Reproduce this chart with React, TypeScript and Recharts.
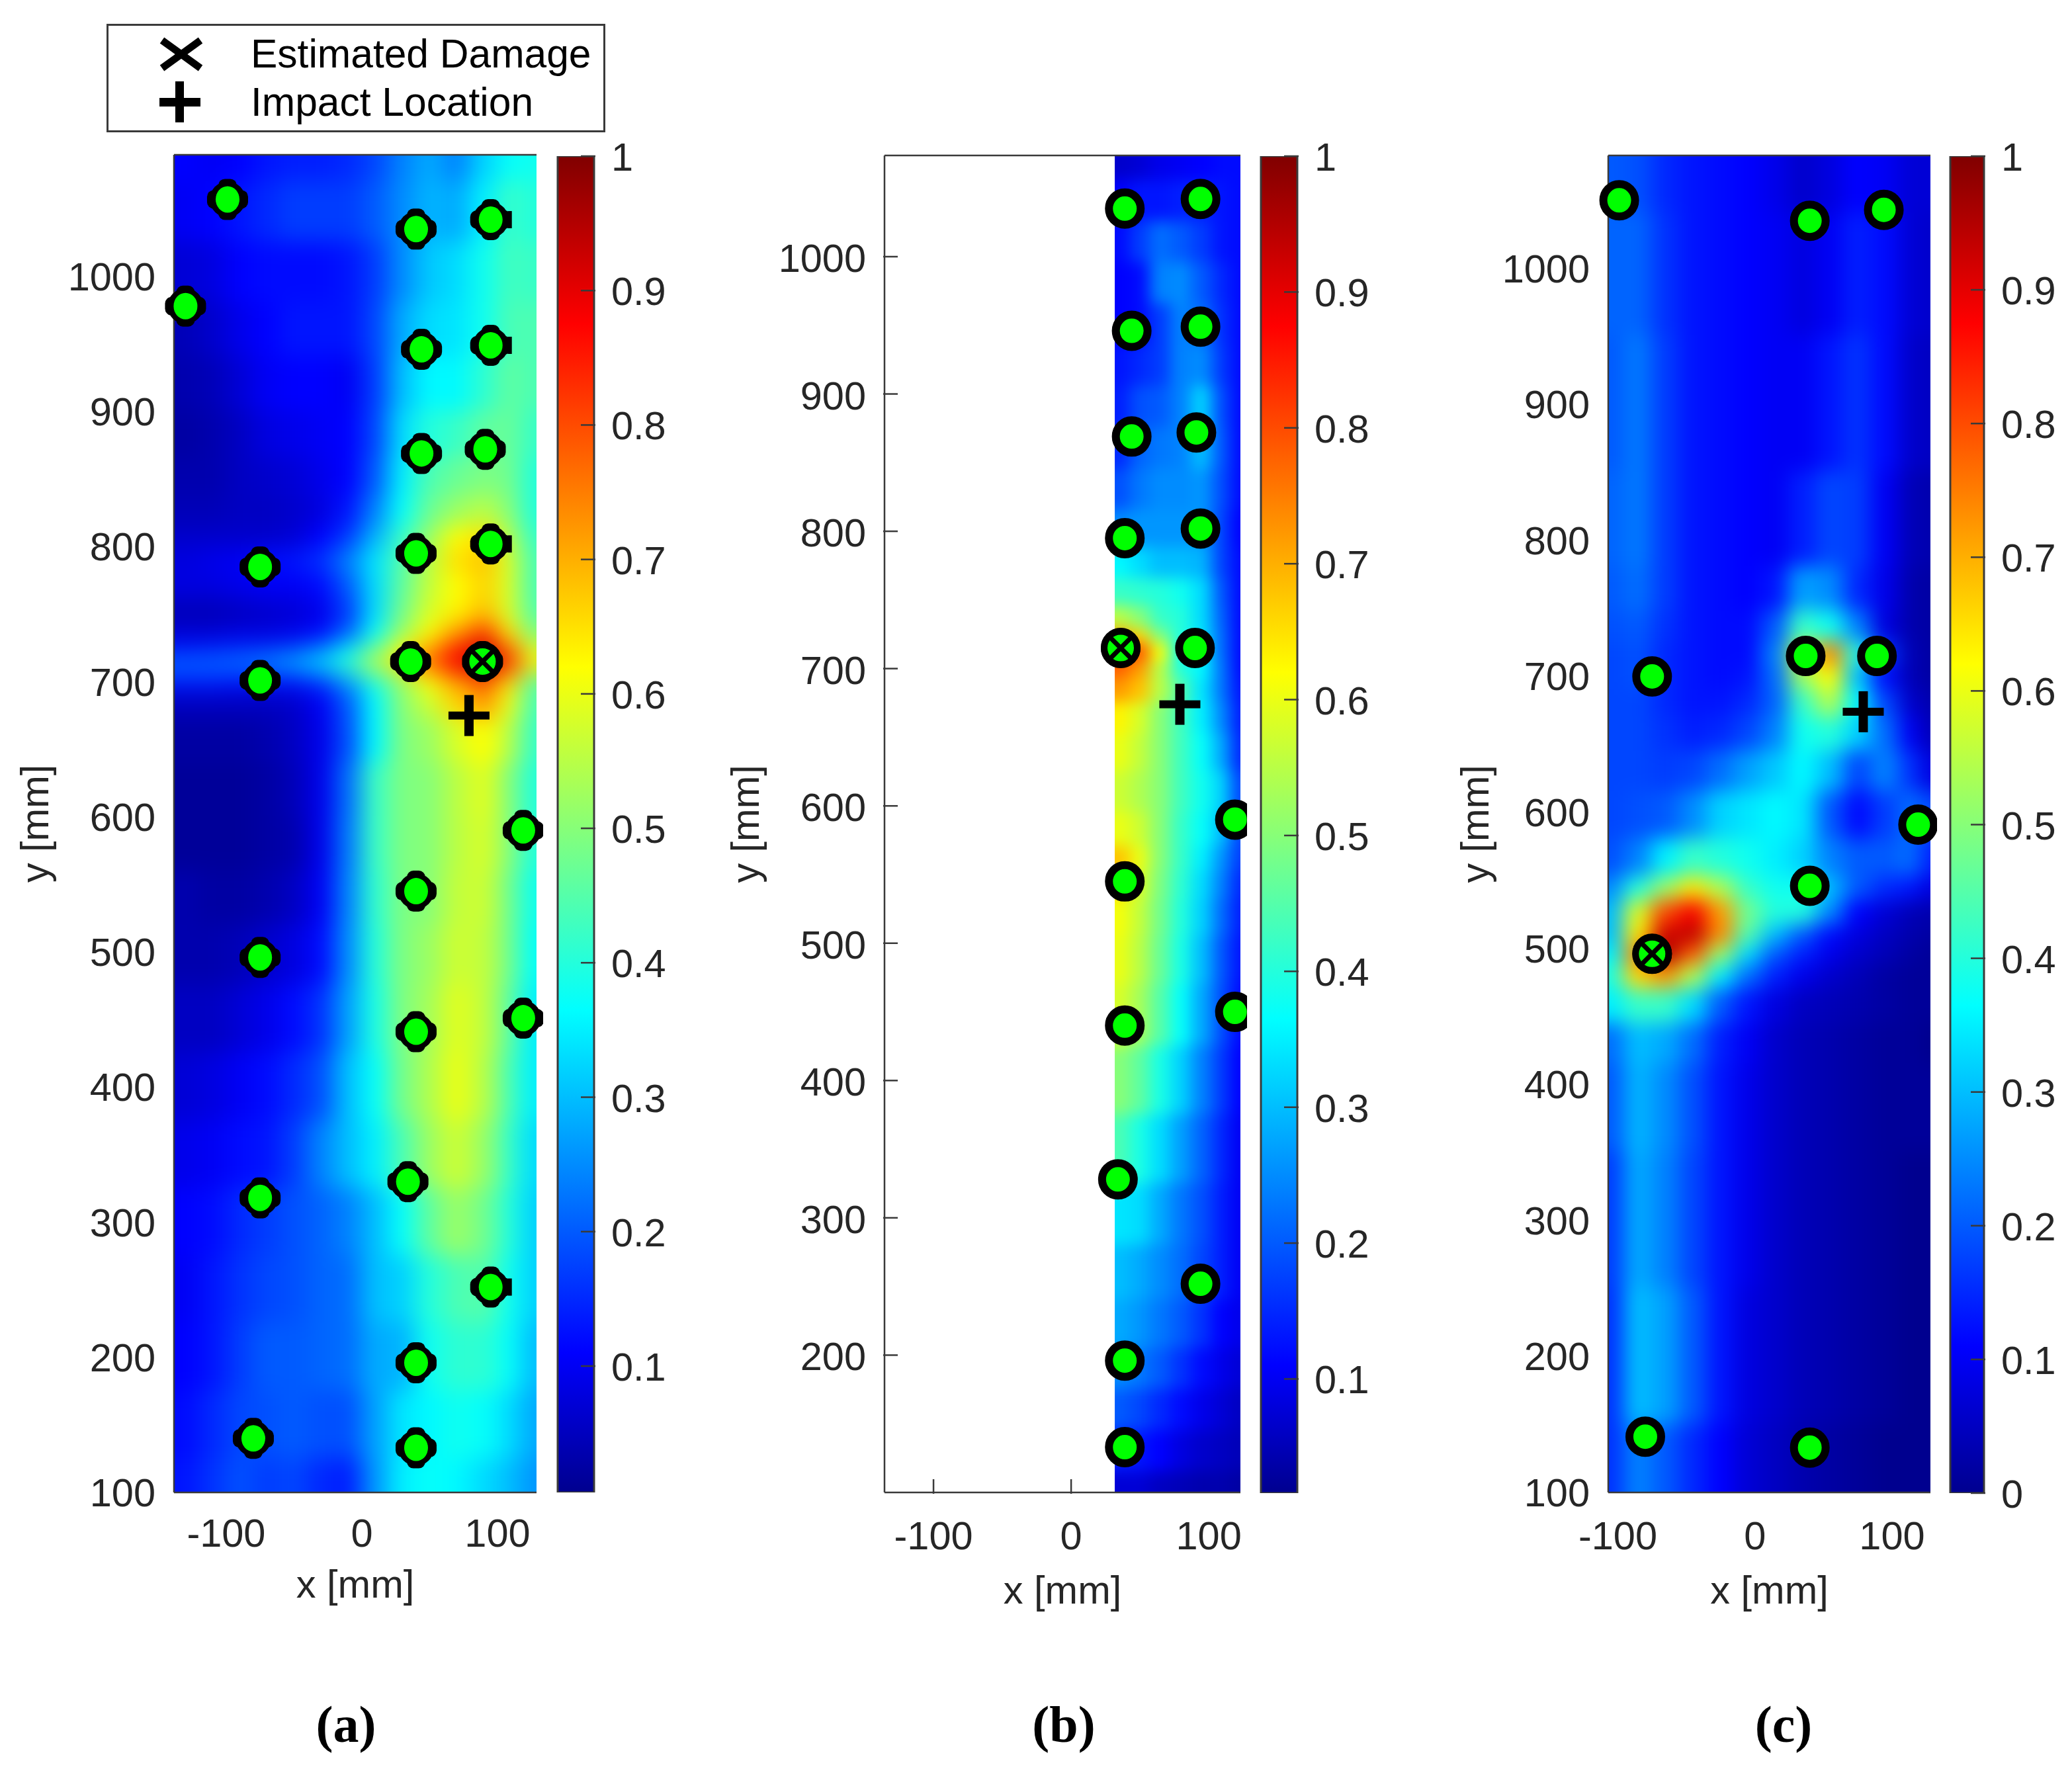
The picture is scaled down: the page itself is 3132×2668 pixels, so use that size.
import { Bar, BarChart, Legend, ReferenceArea, Scatter, ScatterChart, XAxis, YAxis } from 'recharts';

const FONT = '"Liberation Sans", Arial, sans-serif';
const INK = '#262626';
const FRAME = '#3a3a3a';
const FULL_H = 2668;

const JET_STOPS: [number, number[]][] = [
  [0, [0, 0, 143]],
  [0.11, [0, 0, 255]],
  [0.365, [0, 255, 255]],
  [0.62, [255, 255, 0]],
  [0.875, [255, 0, 0]],
  [1, [128, 0, 0]],
];

const LEGEND_ITEMS = ['Estimated Damage', 'Impact Location'];
const CAPTIONS = ['(a)', '(b)', '(c)'];
const BAR_TICKS = [0.1, 0.2, 0.3, 0.4, 0.5, 0.6, 0.7, 0.8, 0.9, 1];
const BAR_TICKS_ZERO = [0, 0.1, 0.2, 0.3, 0.4, 0.5, 0.6, 0.7, 0.8, 0.9, 1];
const X_TICKS = [-100, 0, 100];
const Y_TICKS = [100, 200, 300, 400, 500, 600, 700, 800, 900, 1000];
const Y_TICKS_B = [200, 300, 400, 500, 600, 700, 800, 900, 1000];

// sensor positions in mm
const SENSORS_A = [
  { x: -99, y: 1057 }, { x: -130, y: 978 }, { x: 40, y: 1035 }, { x: 95, y: 1042 }, { x: 44, y: 946 },
  { x: 95, y: 949 }, { x: 44, y: 869 }, { x: 91, y: 872 }, { x: 40, y: 795 }, { x: 95, y: 802 },
  { x: -75, y: 785 }, { x: -75, y: 701 }, { x: 36, y: 715 }, { x: 89, y: 715 }, { x: 119, y: 590 },
  { x: 40, y: 545 }, { x: -75, y: 496 }, { x: 40, y: 441 }, { x: 119, y: 451 }, { x: -75, y: 318 },
  { x: 34, y: 330 }, { x: 95, y: 252 }, { x: 40, y: 196 }, { x: -80, y: 140 }, { x: 40, y: 133 },
];
const SENSORS_B = [
  { x: 39, y: 1035 }, { x: 94, y: 1042 }, { x: 44, y: 946 }, { x: 94, y: 949 }, { x: 44, y: 869 },
  { x: 91, y: 872 }, { x: 39, y: 795 }, { x: 94, y: 802 }, { x: 36, y: 715 }, { x: 90, y: 715 },
  { x: 119, y: 590 }, { x: 39, y: 545 }, { x: 119, y: 450 }, { x: 39, y: 440 }, { x: 34, y: 328 },
  { x: 94, y: 252 }, { x: 39, y: 196 }, { x: 39, y: 133 },
];
const SENSORS_C = [
  { x: -99, y: 1050 }, { x: 40, y: 1035 }, { x: 94, y: 1043 }, { x: -75, y: 700 }, { x: 37, y: 715 },
  { x: 89, y: 715 }, { x: 119, y: 591 }, { x: 40, y: 546 }, { x: -75, y: 496 }, { x: -80, y: 141 }, { x: 40, y: 133 },
];
const DAMAGE_A = [{ x: 89, y: 715 }];
const DAMAGE_B = [{ x: 36, y: 715 }];
const DAMAGE_C = [{ x: -75, y: 496 }];
const IMPACT_A = [{ x: 79, y: 675 }];
const IMPACT_B = [{ x: 79, y: 674 }];
const IMPACT_C = [{ x: 79, y: 674 }];

// colour field, read as hundredths of the colour bar
const HEAT_A_X = [-130, -110, -90, -70, -50, -30, -10, 10, 30, 50, 70, 90, 110, 125];
const HEAT_A_Y = [1090, 1050, 1000, 960, 920, 880, 850, 825, 805, 790, 770, 750, 735, 722, 712, 700, 685, 660, 620, 580, 540, 500, 450, 400, 350, 300, 250, 200, 150, 100];
const HEAT_A = [
  [11, 10, 11, 13, 14, 14, 15, 18, 24, 28, 24, 32, 37, 38],
  [10, 11, 13, 15, 17, 17, 17, 20, 25, 29, 28, 35, 42, 40],
  [7, 8, 11, 12, 12, 12, 13, 17, 25, 31, 33, 38, 43, 42],
  [4, 6, 9, 11, 13, 13, 13, 18, 28, 33, 34, 38, 44, 44],
  [3, 4, 7, 10, 11, 11, 10, 17, 30, 36, 36, 41, 46, 44],
  [2, 3, 5, 8, 9, 10, 11, 18, 33, 40, 42, 46, 47, 42],
  [3, 3, 5, 6, 7, 9, 11, 20, 35, 44, 47, 49, 48, 40],
  [4, 4, 5, 5, 6, 8, 13, 24, 37, 47, 52, 55, 50, 40],
  [6, 6, 6, 6, 7, 11, 17, 29, 42, 52, 62, 65, 55, 42],
  [8, 9, 10, 12, 13, 16, 24, 34, 45, 55, 65, 68, 58, 44],
  [8, 8, 9, 10, 10, 12, 20, 33, 46, 56, 62, 66, 58, 44],
  [4, 4, 5, 6, 7, 9, 17, 33, 48, 58, 63, 68, 58, 45],
  [7, 7, 8, 8, 9, 12, 21, 37, 52, 62, 72, 82, 65, 50],
  [14, 15, 16, 17, 19, 25, 35, 48, 62, 72, 85, 92, 78, 58],
  [22, 22, 23, 25, 29, 33, 42, 55, 66, 78, 88, 94, 84, 64],
  [14, 14, 13, 13, 13, 17, 27, 40, 52, 62, 72, 80, 66, 46],
  [5, 5, 5, 5, 6, 10, 20, 36, 50, 57, 66, 72, 60, 44],
  [2, 2, 2, 3, 5, 9, 19, 36, 49, 52, 58, 62, 55, 42],
  [1, 1, 1, 2, 4, 9, 22, 42, 49, 50, 55, 59, 50, 40],
  [1, 1, 1, 2, 3, 9, 23, 42, 49, 50, 55, 58, 50, 40],
  [3, 2, 2, 3, 5, 10, 24, 41, 49, 50, 56, 57, 48, 38],
  [3, 3, 4, 6, 8, 12, 25, 40, 49, 52, 57, 56, 48, 37],
  [5, 5, 7, 9, 12, 16, 27, 39, 49, 53, 59, 56, 46, 35],
  [7, 8, 10, 12, 15, 19, 30, 37, 48, 54, 60, 55, 44, 35],
  [9, 10, 12, 13, 17, 24, 30, 35, 44, 52, 57, 52, 42, 33],
  [11, 12, 15, 17, 19, 21, 24, 30, 37, 46, 52, 48, 40, 32],
  [10, 13, 16, 18, 19, 21, 22, 30, 32, 40, 44, 45, 38, 32],
  [11, 13, 17, 20, 20, 21, 22, 28, 29, 38, 41, 41, 37, 30],
  [12, 15, 18, 19, 20, 19, 19, 27, 34, 36, 38, 37, 33, 28],
  [13, 16, 19, 17, 18, 15, 14, 26, 35, 37, 36, 33, 30, 26],
];

const HEAT_B_X = [36, 50, 65, 80, 95, 110, 122];
const HEAT_B_Y = [1070, 1040, 1010, 980, 950, 920, 890, 860, 830, 800, 775, 755, 735, 722, 712, 700, 685, 665, 640, 610, 580, 560, 545, 520, 490, 450, 400, 350, 300, 260, 220, 190, 160, 130, 100];
const HEAT_B = [
  [6, 7, 9, 10, 11, 12, 12],
  [11, 13, 13, 14, 14, 13, 12],
  [12, 17, 22, 20, 17, 13, 12],
  [11, 12, 24, 25, 20, 15, 12],
  [11, 12, 17, 24, 22, 16, 12],
  [13, 15, 17, 24, 25, 17, 12],
  [14, 19, 20, 24, 32, 19, 12],
  [15, 21, 23, 24, 30, 20, 12],
  [19, 23, 25, 25, 26, 19, 12],
  [25, 26, 26, 26, 26, 18, 11],
  [36, 33, 30, 30, 29, 18, 12],
  [42, 41, 40, 38, 33, 20, 12],
  [55, 50, 42, 40, 33, 21, 12],
  [72, 66, 50, 40, 34, 22, 12],
  [82, 80, 62, 38, 35, 22, 12],
  [78, 72, 55, 40, 36, 23, 12],
  [72, 68, 55, 45, 34, 23, 13],
  [63, 58, 50, 43, 35, 25, 14],
  [60, 56, 50, 43, 37, 28, 15],
  [57, 54, 50, 43, 38, 32, 18],
  [60, 57, 50, 42, 37, 30, 18],
  [68, 60, 50, 42, 35, 26, 17],
  [66, 58, 49, 41, 33, 24, 15],
  [61, 56, 48, 40, 32, 22, 14],
  [60, 55, 47, 39, 30, 20, 13],
  [58, 53, 45, 37, 28, 19, 12],
  [50, 46, 39, 32, 24, 17, 11],
  [44, 39, 33, 27, 21, 15, 10],
  [34, 33, 28, 23, 19, 14, 10],
  [30, 28, 25, 22, 18, 14, 10],
  [28, 26, 23, 20, 16, 11, 9],
  [25, 23, 20, 16, 12, 9, 7],
  [20, 18, 15, 12, 9, 7, 5],
  [14, 13, 11, 8, 6, 5, 4],
  [7, 7, 5, 4, 3, 3, 2],
];

const HEAT_C_X = [-105, -85, -65, -45, -25, -5, 15, 35, 55, 75, 95, 115, 127];
const HEAT_C_Y = [1080, 1000, 900, 800, 760, 735, 715, 700, 680, 660, 630, 600, 560, 545, 525, 510, 495, 480, 460, 430, 400, 300, 200, 100];
const HEAT_C = [
  [20, 19, 15, 13, 12, 11, 9, 6, 8, 11, 10, 7, 7],
  [21, 21, 16, 13, 12, 11, 10, 8, 10, 14, 12, 7, 6],
  [20, 23, 17, 13, 12, 11, 10, 10, 13, 16, 12, 6, 5],
  [21, 23, 17, 13, 12, 11, 10, 14, 18, 17, 10, 4, 3],
  [20, 22, 17, 13, 12, 11, 13, 27, 25, 15, 9, 3, 2],
  [19, 20, 16, 13, 12, 12, 20, 42, 38, 24, 8, 3, 2],
  [18, 19, 15, 13, 12, 12, 24, 58, 74, 40, 17, 4, 2],
  [18, 19, 15, 13, 12, 13, 22, 52, 62, 30, 12, 4, 2],
  [18, 18, 15, 13, 13, 15, 21, 42, 54, 36, 18, 6, 3],
  [18, 18, 16, 14, 15, 18, 24, 38, 40, 32, 22, 10, 4],
  [18, 18, 17, 18, 22, 27, 31, 36, 30, 18, 24, 16, 8],
  [18, 19, 20, 25, 32, 34, 36, 34, 20, 12, 17, 22, 18],
  [19, 24, 35, 42, 40, 38, 35, 32, 24, 20, 20, 22, 14],
  [25, 40, 52, 64, 54, 42, 38, 38, 30, 20, 15, 13, 8],
  [30, 58, 80, 88, 72, 48, 40, 40, 25, 11, 7, 4, 3],
  [30, 64, 92, 94, 74, 45, 30, 20, 12, 8, 5, 3, 2],
  [35, 74, 96, 78, 52, 33, 20, 14, 9, 6, 4, 2, 1],
  [40, 66, 72, 54, 35, 22, 14, 9, 6, 4, 2, 1, 1],
  [35, 42, 42, 33, 20, 13, 8, 5, 4, 3, 2, 1, 1],
  [22, 30, 28, 22, 14, 10, 6, 4, 3, 2, 1, 1, 0],
  [20, 29, 25, 19, 13, 9, 6, 4, 3, 2, 1, 1, 1],
  [17, 28, 24, 18, 13, 9, 6, 4, 3, 2, 1, 0, 0],
  [16, 30, 27, 20, 13, 8, 6, 4, 3, 2, 1, 0, 0],
  [16, 24, 20, 15, 11, 7, 5, 3, 2, 1, 0, 0, 0],
];

const jet = (v: number) => {
  const t = Math.min(1, Math.max(0, v));
  for (let i = 1; i < JET_STOPS.length; i++) {
    const [v0, c0] = JET_STOPS[i - 1];
    const [v1, c1] = JET_STOPS[i];
    if (t <= v1) {
      const f = (t - v0) / (v1 - v0);
      return `rgb(${c0.map((c, k) => Math.round(c + (c1[k] - c) * f)).join(',')})`;
    }
  }
  return 'rgb(128,0,0)';
};

const toCells = (xs: number[], ys: number[], rows: number[][]) =>
  ys.flatMap((y, r) => xs.map((x, c) => ({ x, y, v: rows[r][c] / 100, c, r })));

// half the gap to the next node, in px; outer nodes run well past the frame so the blur stays flat at the edge
const halfGap = (nodes: number[], i: number, dir: number, pxPerMm: number) => {
  const next = nodes[i + dir];
  return next === undefined ? 90 : (Math.abs(next - nodes[i]) * pxPerMm) / 2 + 1;
};

const ringMarker = (p: any) => (
  <ellipse cx={p.cx} cy={p.cy} rx={24} ry={24.5} fill="#00ff00" stroke="#000" strokeWidth={12} />
);

const cloverMarker = (p: any) => (
  <g>
    <circle cx={p.cx} cy={p.cy} r={27} fill="#000" />
    <rect x={p.cx - 31} y={p.cy - 14} width={62} height={28} rx={10} fill="#000" />
    <rect x={p.cx - 14} y={p.cy - 31} width={28} height={62} rx={10} fill="#000" />
    {p.payload.x === 95 && <rect x={p.cx + 26} y={p.cy - 13} width={6} height={26} fill="#000" />}
    <ellipse cx={p.cx} cy={p.cy} rx={18} ry={20} fill="#00ff00" />
  </g>
);

const damageMarker = (p: any) => (
  <g stroke="#000">
    <ellipse cx={p.cx} cy={p.cy} rx={25} ry={25} fill="#00ff00" strokeWidth={10} />
    <line x1={p.cx - 19} y1={p.cy - 19} x2={p.cx + 19} y2={p.cy + 19} strokeWidth={7} />
    <line x1={p.cx + 19} y1={p.cy - 19} x2={p.cx - 19} y2={p.cy + 19} strokeWidth={7} />
  </g>
);

const impactMarker = (p: any) => (
  <g fill="#000">
    <rect x={p.cx - 31} y={p.cy - 6} width={62} height={12} />
    <rect x={p.cx - 7} y={p.cy - 31} width={14} height={62} />
  </g>
);

function LegendBox() {
  return (
    <svg width={754} height={164} style={{ display: 'block' }}>
      <rect x={1.5} y={1.5} width={751} height={161} fill="#fff" stroke={FRAME} strokeWidth={3} />
      <g stroke="#000" strokeWidth={11}>
        <line x1={84} y1={25} x2={142} y2={67} />
        <line x1={142} y1={25} x2={84} y2={67} />
      </g>
      <g fill="#000">
        <rect x={80} y={112} width={62} height={13} />
        <rect x={104} y={87} width={13} height={62} />
      </g>
      <g fontFamily={FONT} fontSize={60.5} fill="#000">
        <text x={218} y={66}>{LEGEND_ITEMS[0]}</text>
        <text x={218} y={139}>{LEGEND_ITEMS[1]}</text>
      </g>
    </svg>
  );
}

type PanelProps = {
  id: string;
  plot: { left: number; right: number; top: number; bottom: number };
  xDomain: [number, number];
  yDomain: [number, number];
  yTicks: number[];
  heatX: number[];
  heatY: number[];
  heat: number[][];
  heatLeft: number;
  sensors: { x: number; y: number }[];
  damage: { x: number; y: number }[];
  impact: { x: number; y: number }[];
  sensorShape: (p: any) => any;
  xTickGap: number;
  xLabelGap: number;
  yLabelOffset: number;
  yTickDrop: number;
  showLegend?: boolean;
};

function Panel(props: PanelProps) {
  const { id, plot, xDomain, yDomain, yTicks, heatX, heatY, heat, heatLeft, sensors, damage, impact, sensorShape } = props;
  const boxLeft = plot.left - 260;
  const width = plot.right - plot.left + 270;
  const pxX = (plot.right - plot.left) / (xDomain[1] - xDomain[0]);
  const pxY = (plot.bottom - plot.top) / (yDomain[1] - yDomain[0]);
  const hasWhite = heatLeft > xDomain[0];
  const textStyle = { fontFamily: FONT, fontSize: 59.5, fill: INK };
  const axisLine = { stroke: FRAME, strokeWidth: 2.5 };

  const heatCell = (p: any) => {
    const { c, r, v } = p.payload;
    const l = halfGap(heatX, c, -1, pxX);
    const rt = halfGap(heatX, c, 1, pxX);
    const t = halfGap(heatY, r, -1, pxY);
    const b = halfGap(heatY, r, 1, pxY);
    return <rect x={p.cx - l} y={p.cy - t} width={l + rt} height={t + b} fill={jet(v)} />;
  };

  const xTick = (p: any) => (
    <g>
      {hasWhite && p.payload.value < heatLeft && (
        <line x1={p.x} x2={p.x} y1={p.y} y2={p.y - 22} stroke={FRAME} strokeWidth={2.5} />
      )}
      <text x={p.x} y={p.y + props.xTickGap + 20} textAnchor="middle" {...textStyle}>{p.payload.value}</text>
    </g>
  );
  const topTick = (p: any) =>
    hasWhite && p.payload.value < heatLeft ? (
      <line x1={p.x} x2={p.x} y1={p.y} y2={p.y + 22} stroke={FRAME} strokeWidth={2.5} />
    ) : (
      <g />
    );
  const yTick = (p: any) => (
    <g>
      {hasWhite && <line x1={p.x} x2={p.x + 22} y1={p.y} y2={p.y} stroke={FRAME} strokeWidth={2.5} />}
      <text x={p.x - 26} y={p.y + props.yTickDrop} textAnchor="end" {...textStyle}>{p.payload.value}</text>
    </g>
  );
  const margin = { left: 60, right: 10, top: plot.top, bottom: FULL_H - plot.bottom - 170 };

  return (
    <>
      {/* colour field on its own chart, so the clip and the mask stay under the frame */}
      <div style={{ position: 'absolute', left: boxLeft, top: 0 }}>
        <ScatterChart width={width} height={FULL_H} margin={{ ...margin, left: 260, bottom: FULL_H - plot.bottom }}>
          <XAxis type="number" dataKey="x" domain={xDomain} allowDataOverflow hide />
          <YAxis type="number" dataKey="y" domain={yDomain} allowDataOverflow hide />
          <Scatter className={`heat-${id}`} data={toCells(heatX, heatY, heat)} shape={heatCell} isAnimationActive={false} />
          {hasWhite && (
            <ReferenceArea
              x1={xDomain[0]}
              x2={heatLeft}
              y1={yDomain[0]}
              y2={yDomain[1]}
              fill="#fff"
              fillOpacity={1}
              stroke="none"
              zIndex={700}
            />
          )}
        </ScatterChart>
      </div>
      <div style={{ position: 'absolute', left: boxLeft, top: 0 }}>
        <ScatterChart width={width} height={FULL_H} margin={margin}>
          <XAxis
            type="number"
            dataKey="x"
            domain={xDomain}
            ticks={X_TICKS}
            interval={0}
            height={170}
            tickSize={0}
            tickLine={false}
            tick={xTick}
            axisLine={axisLine}
            label={{ value: 'x [mm]', position: 'insideTop', offset: props.xLabelGap, style: textStyle }}
          />
          <XAxis
            xAxisId="top"
            orientation="top"
            type="number"
            dataKey="x"
            domain={xDomain}
            ticks={X_TICKS}
            interval={0}
            height={1}
            tickSize={0}
            tickLine={false}
            tick={topTick}
            axisLine={axisLine}
          />
          <YAxis
            type="number"
            dataKey="y"
            domain={yDomain}
            ticks={yTicks}
            interval={0}
            width={200}
            tickSize={0}
            tickLine={false}
            tick={yTick}
            axisLine={axisLine}
            label={{
              value: 'y [mm]',
              angle: -90,
              position: 'insideLeft',
              offset: props.yLabelOffset,
              textAnchor: 'middle',
              style: textStyle,
            }}
          />
          <Scatter data={sensors} shape={sensorShape} isAnimationActive={false} />
          <Scatter data={damage} shape={damageMarker} isAnimationActive={false} />
          <Scatter data={impact} shape={impactMarker} isAnimationActive={false} />
          {props.showLegend && (
            <Legend
              layout="vertical"
              align="center"
              verticalAlign="middle"
              content={() => <LegendBox />}
              wrapperStyle={{ position: 'absolute', left: 161 - boxLeft, top: 36, width: 754, height: 164 }}
            />
          )}
        </ScatterChart>
      </div>
    </>
  );
}

type BarProps = { id: string; left: number; right: number; top: number; bottom: number; min: number; ticks: number[] };

function ColorBar({ id, left, right, top, bottom, min, ticks }: BarProps) {
  const tick = (p: any) => (
    <g>
      <line x1={p.x} x2={p.x - 22} y1={p.y} y2={p.y} stroke={FRAME} strokeWidth={2.5} />
      <text x={p.x + 24} y={p.y + 22} fontFamily={FONT} fontSize={59.5} fill={INK}>{p.payload.value}</text>
    </g>
  );
  return (
    <div style={{ position: 'absolute', left: left - 10, top: 0 }}>
      <BarChart
        width={right - left + 130}
        height={FULL_H}
        data={[{ name: 'scale', value: 1 }]}
        barCategoryGap={0}
        margin={{ left: 10, right: 0, top, bottom: FULL_H - bottom }}
      >
        <defs>
          <linearGradient id={`jet-${id}`} x1="0" y1="0" x2="0" y2="1">
            {[...JET_STOPS].reverse().map(([v, c]) => (
              <stop key={v} offset={(1 - v) / (1 - min)} stopColor={`rgb(${c.join(',')})`} />
            ))}
          </linearGradient>
        </defs>
        <XAxis dataKey="name" hide />
        <Bar dataKey="value" fill={`url(#jet-${id})`} stroke={FRAME} strokeWidth={3} isAnimationActive={false} />
        <YAxis
          orientation="right"
          type="number"
          domain={[min, 1]}
          ticks={ticks}
          interval={0}
          allowDataOverflow
          width={120}
          tickSize={0}
          tickLine={false}
          axisLine={false}
          tick={tick}
        />
      </BarChart>
    </div>
  );
}

const CAPTION_X = [523, 1608, 2696];

export default function App() {
  return (
    <div style={{ position: 'absolute', left: 0, top: 0, width: 3132, height: FULL_H, background: '#fff', overflow: 'hidden' }}>
      <style>{`.heat-a{filter:blur(17px)}.heat-b{filter:blur(11px)}.heat-c{filter:blur(15px)}`}</style>
      <Panel
        id="a"
        plot={{ left: 263, right: 811, top: 233, bottom: 2256 }}
        xDomain={[-138.5, 128.8]}
        yDomain={[100, 1090]}
        yTicks={Y_TICKS}
        heatX={HEAT_A_X}
        heatY={HEAT_A_Y}
        heat={HEAT_A}
        heatLeft={-138.5}
        sensors={SENSORS_A}
        damage={DAMAGE_A}
        impact={IMPACT_A}
        sensorShape={cloverMarker}
        xTickGap={60}
        xLabelGap={117}
        yLabelOffset={-11}
        yTickDrop={21}
        showLegend
      />
      <Panel
        id="b"
        plot={{ left: 1337, right: 1875, top: 234, bottom: 2256 }}
        xDomain={[-135.6, 123]}
        yDomain={[100, 1073.7]}
        yTicks={Y_TICKS_B}
        heatX={HEAT_B_X}
        heatY={HEAT_B_Y}
        heat={HEAT_B}
        heatLeft={31.7}
        sensors={SENSORS_B}
        damage={DAMAGE_B}
        impact={IMPACT_B}
        sensorShape={ringMarker}
        xTickGap={64}
        xLabelGap={126}
        yLabelOffset={-11}
        yTickDrop={23}
      />
      <Panel
        id="c"
        plot={{ left: 2431, right: 2918, top: 234, bottom: 2256 }}
        xDomain={[-107, 128]}
        yDomain={[100, 1083]}
        yTicks={Y_TICKS}
        heatX={HEAT_C_X}
        heatY={HEAT_C_Y}
        heat={HEAT_C}
        heatLeft={-107}
        sensors={SENSORS_C}
        damage={DAMAGE_C}
        impact={IMPACT_C}
        sensorShape={ringMarker}
        xTickGap={64}
        xLabelGap={126}
        yLabelOffset={-2}
        yTickDrop={21}
      />
      <ColorBar id="a" left={843} right={898} top={236} bottom={2256} min={0.006} ticks={BAR_TICKS} />
      <ColorBar id="b" left={1906} right={1961} top={236} bottom={2257} min={0.016} ticks={BAR_TICKS} />
      <ColorBar id="c" left={2948} right={2999} top={236} bottom={2257} min={0} ticks={BAR_TICKS_ZERO} />
      {CAPTIONS.map((text, i) => (
        <div
          key={text}
          style={{
            position: 'absolute',
            left: CAPTION_X[i] - 100,
            width: 200,
            top: 2565,
            textAlign: 'center',
            fontFamily: '"Liberation Serif", serif',
            fontWeight: 700,
            fontSize: 78,
            lineHeight: '84px',
            color: '#000',
          }}
        >
          {text}
        </div>
      ))}
    </div>
  );
}
